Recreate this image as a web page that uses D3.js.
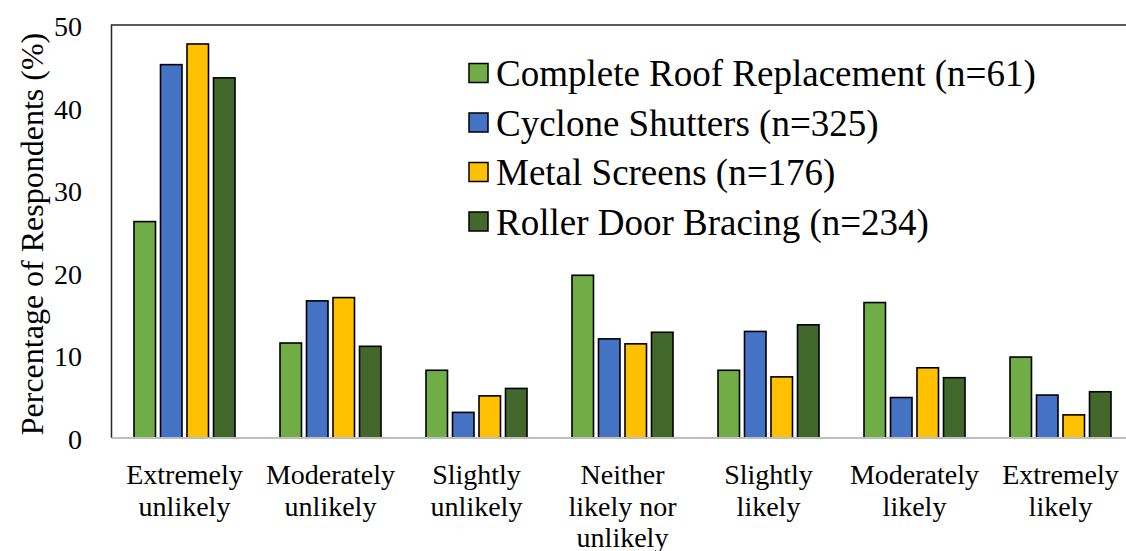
<!DOCTYPE html>
<html>
<head>
<meta charset="utf-8">
<script src="https://cdn.jsdelivr.net/npm/d3@7"></script>
</head>
<body style="margin:0">
<svg id="chart" width="1126" height="551"></svg>
<script>
// Likelihood categories (x axis), each label split into lines
const categories = [
  ["Extremely", "unlikely"],
  ["Moderately", "unlikely"],
  ["Slightly", "unlikely"],
  ["Neither", "likely nor", "unlikely"],
  ["Slightly", "likely"],
  ["Moderately", "likely"],
  ["Extremely", "likely"]
];

// Retrofit measures (legend)
const seriesNames = [
  "Complete Roof Replacement (n=61)",
  "Cyclone Shutters (n=325)",
  "Metal Screens (n=176)",
  "Roller Door Bracing (n=234)"
];
const seriesColors = ["#70AD47", "#4472C4", "#FFC000", "#43682B"];

// Percentage of respondents per category, one array per measure
const roofReplacement = [26.2, 11.5, 8.2, 19.7, 8.2, 16.4, 9.8];
const cycloneShutters = [45.2, 16.6, 3.1, 12.0, 12.9, 4.9, 5.2];
const metalScreens    = [47.7, 17.0, 5.1, 11.4, 7.4, 8.5, 2.8];
const rollerDoor      = [43.6, 11.1, 6.0, 12.8, 13.7, 7.3, 5.6];
const seriesValues = [roofReplacement, cycloneShutters, metalScreens, rollerDoor];

const yTicks = [0, 10, 20, 30, 40, 50];
const yTitle = "Percentage of Respondents (%)";

const svg = d3.select("#chart");
const plot = { left: 111.5, top: 25, bottom: 438, step: 146 };
plot.right = plot.left + plot.step * categories.length;

// Serif text placed directly on the svg
function addText(x, y, str, size, anchor) {
  return svg.append("text")
    .attr("x", x).attr("y", y)
    .attr("text-anchor", anchor || "start")
    .style("font-family", '"Liberation Serif"')
    .style("font-size", size + "px")
    .text(str);
}

const x0 = d3.scaleBand()
  .domain(d3.range(categories.length))
  .range([plot.left, plot.right])
  .padding(0);

const x1 = d3.scaleBand()
  .domain(d3.range(seriesNames.length))
  .range([0, x0.bandwidth()])
  .paddingInner(0.189)
  .paddingOuter(0.849);

const y = d3.scaleLinear().domain([0, 50]).range([plot.bottom, plot.top]);

// Plot frame (top and left edges)
svg.append("path")
  .attr("d", `M${plot.left},${plot.bottom} V${plot.top} H${plot.right + 20}`)
  .attr("fill", "none")
  .attr("stroke", "#262626")
  .attr("stroke-width", 1.5);

// Bars
seriesValues.forEach((vals, s) => {
  svg.selectAll(`rect.s${s}`)
    .data(vals)
    .join("rect")
    .attr("class", `s${s}`)
    .attr("x", (v, i) => x0(i) + x1(s))
    .attr("width", x1.bandwidth())
    .attr("y", v => y(v))
    .attr("height", v => y(0) - y(v))
    .attr("fill", seriesColors[s])
    .attr("stroke", "#000")
    .attr("stroke-width", 1.6);
});

// Baseline
svg.append("line")
  .attr("x1", plot.left).attr("x2", plot.right + 20)
  .attr("y1", plot.bottom).attr("y2", plot.bottom)
  .attr("stroke", "#bfbfbf")
  .attr("stroke-width", 2);

// Y axis tick labels
yTicks.forEach(t => addText(82, y(t) + 11, String(t), 28, "end"));

// Y axis title
addText(0, 0, yTitle, 32, "middle")
  .attr("transform", `translate(43,234) rotate(-90)`);

// Category labels, one text per line
categories.forEach((lines, i) => {
  const cx = x0(i) + x0.bandwidth() / 2;
  lines.forEach((ln, k) => addText(cx, 484 + k * 31.5, ln, 28, "middle"));
});

// Legend
seriesNames.forEach((name, s) => {
  const cy = 73 + s * 49.5;
  svg.append("rect")
    .attr("x", 469).attr("y", cy - 9.5)
    .attr("width", 19).attr("height", 19)
    .attr("fill", seriesColors[s])
    .attr("stroke", "#000")
    .attr("stroke-width", 1.5);
  addText(496, cy + 13, name, 37);
});
</script>
</body>
</html>
